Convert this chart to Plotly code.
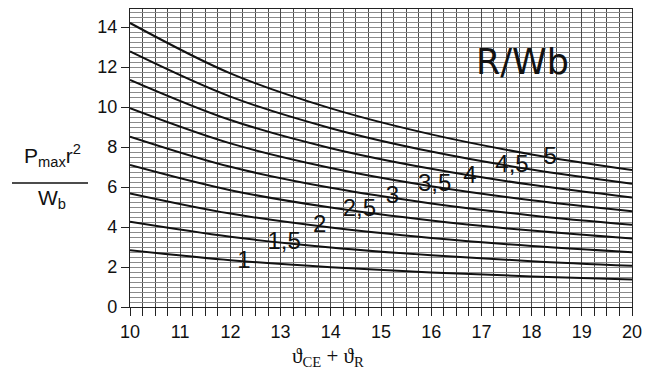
import plotly.graph_objects as go

# Abscissa: sum of the two temperatures
theta = [10, 12, 14, 16, 18, 20]

# One curve per R/Wb ratio
ratios = [1, 1.5, 2, 2.5, 3, 3.5, 4, 4.5, 5]
ratio_labels = ["1", "1,5", "2", "2,5", "3", "3,5", "4", "4,5", "5"]

p_r1 = [2.84, 2.34, 1.99, 1.73, 1.53, 1.37]
p_r15 = [4.26, 3.51, 2.98, 2.59, 2.29, 2.06]
p_r2 = [5.68, 4.67, 3.97, 3.45, 3.05, 2.74]
p_r25 = [7.10, 5.84, 4.97, 4.32, 3.82, 3.42]
p_r3 = [8.52, 7.01, 5.96, 5.18, 4.58, 4.11]
p_r35 = [9.94, 8.18, 6.95, 6.04, 5.34, 4.79]
p_r4 = [11.36, 9.35, 7.94, 6.91, 6.11, 5.48]
p_r45 = [12.78, 10.52, 8.94, 7.77, 6.87, 6.16]
p_r5 = [14.20, 11.68, 9.93, 8.63, 7.63, 6.85]
curves = [p_r1, p_r15, p_r2, p_r25, p_r3, p_r35, p_r4, p_r45, p_r5]

# Where each ratio number is written on its curve
label_x = [12.27, 13.07, 13.78, 14.57, 15.23, 16.07, 16.77, 17.61, 18.37]
label_y = [2.27, 3.18, 4.07, 4.85, 5.52, 6.10, 6.52, 7.05, 7.43]

x_ticks = list(range(10, 21))
y_ticks = list(range(0, 15, 2))

fig = go.Figure()
for ys in curves:
    fig.add_trace(go.Scatter(
        x=theta, y=ys, mode="lines",
        line=dict(color="#111111", width=2, shape="spline", smoothing=1.0),
        showlegend=False, hoverinfo="skip",
    ))

fig.add_trace(go.Scatter(
    x=label_x, y=label_y, mode="text", text=ratio_labels,
    textfont=dict(family="Liberation Sans Narrow, Liberation Sans, Arial",
                  size=24, color="#111111"),
    showlegend=False, hoverinfo="skip",
))

axis_font = dict(family="Liberation Sans, Arial, Helvetica", size=18, color="#111111")

fig.update_xaxes(
    range=[10, 20], tickvals=x_ticks, ticktext=[str(v) for v in x_ticks],
    ticks="outside", ticklen=8, tickwidth=1, tickcolor="#222222",
    showline=True, linecolor="#222222", linewidth=1.2, mirror=True,
    showgrid=True, gridcolor="#4a4a4a", gridwidth=1,
    minor=dict(dtick=0.25, tick0=10, showgrid=True, gridcolor="#4a4a4a", gridwidth=1,
               ticks="outside", ticklen=8, tickcolor="#222222"),
    tickfont=axis_font, zeroline=False,
)
fig.update_yaxes(
    range=[0, 14.9], tickvals=y_ticks,
    ticks="outside", ticklen=8, tickwidth=1, tickcolor="#222222",
    showline=True, linecolor="#222222", linewidth=1.2, mirror=True,
    showgrid=True, gridcolor="#8a8a8a", gridwidth=1,
    minor=dict(dtick=0.25, tick0=0, showgrid=True, gridcolor="#8a8a8a", gridwidth=1),
    tickfont=axis_font, zeroline=False,
)

plot_l, plot_r, plot_t, plot_b = 130, 632, 9, 307
W, H = 665, 381


def px_x(px):
    return (px - plot_l) / (plot_r - plot_l)


def px_y(py):
    return (plot_b - py) / (plot_b - plot_t)


def side_text(px, py, text, font):
    fig.add_annotation(xref="paper", yref="paper", x=px_x(px), y=px_y(py),
                       xanchor="center", yanchor="middle",
                       text=text, showarrow=False, font=font)


frac_font = dict(family="Liberation Sans, Arial", size=21, color="#111111")

# Y-axis quantity written as a fraction
side_text(52, 155, "P<sub>max</sub>r<sup>2</sup>", frac_font)
fig.add_shape(type="line", xref="paper", yref="paper",
              x0=px_x(12), x1=px_x(88), y0=px_y(183), y1=px_y(183),
              line=dict(color="#111111", width=1.5))
side_text(52, 199, "W<sub>b</sub>", frac_font)

# X-axis quantity
side_text(328, 357, "ϑ<sub>CE</sub> + ϑ<sub>R</sub>",
          dict(family="Liberation Serif, DejaVu Serif, serif", size=21, color="#111111"))

# Curve family name
fig.add_annotation(x=17.82, y=12.25, text="R/Wb", showarrow=False,
                   xanchor="center", yanchor="middle",
                   font=dict(family="DejaVu Sans, Verdana, Arial", size=35, color="#111111"))

fig.update_layout(
    width=W, height=H,
    margin=dict(l=plot_l, r=W - plot_r, t=plot_t, b=H - plot_b, pad=0),
    paper_bgcolor="white", plot_bgcolor="white",
)

fig.write_html("out.html")
